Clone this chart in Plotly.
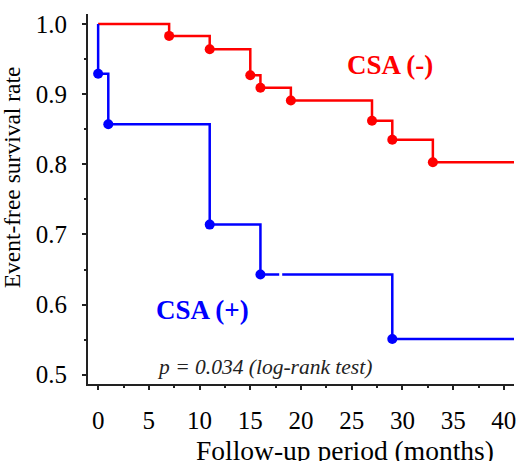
import plotly.graph_objects as go

# Kaplan-Meier step data (months, survival)
red_x = [0, 7, 11, 15, 16, 19, 27, 29, 33, 41]
red_y = [1.0, 0.983, 0.964, 0.927, 0.909, 0.891, 0.862, 0.835, 0.803, 0.803]
red_evt_x = [7, 11, 15, 16, 19, 27, 29, 33]
red_evt_y = [0.983, 0.964, 0.927, 0.909, 0.891, 0.862, 0.835, 0.803]

blue_x = [0, 0, 1, 11, 16, 29, 41]
blue_y = [1.0, 0.929, 0.857, 0.714, 0.643, 0.551, 0.551]
blue_evt_x = [0, 1, 11, 16, 29]
blue_evt_y = [0.929, 0.857, 0.714, 0.643, 0.551]
blue_cens_x = [18]
blue_cens_y = [0.643]

x_ticks = [0, 5, 10, 15, 20, 25, 30, 35, 40]
y_ticks = [0.5, 0.6, 0.7, 0.8, 0.9, 1.0]
y_tick_text = ["0.5", "0.6", "0.7", "0.8", "0.9", "1.0"]

FONT = "Liberation Serif"
RED = "#ff0000"
BLUE = "#0000ff"

W, H = 521, 461
L, R, T, B = 88, 514, 14, 384.3  # plot area in page pixels

fig = go.Figure()
fig.add_trace(go.Scatter(x=red_x, y=red_y, mode="lines", line=dict(color=RED, width=2.5, shape="hv"),
                         showlegend=False, hoverinfo="skip"))
fig.add_trace(go.Scatter(x=red_evt_x, y=red_evt_y, mode="markers", marker=dict(color=RED, size=10),
                         showlegend=False))
fig.add_trace(go.Scatter(x=blue_x, y=blue_y, mode="lines", line=dict(color=BLUE, width=2.5, shape="hv"),
                         showlegend=False, hoverinfo="skip"))
fig.add_trace(go.Scatter(x=blue_cens_x, y=blue_cens_y, mode="markers",
                         marker=dict(symbol="line-ns", size=8, line=dict(color="white", width=3)),
                         showlegend=False))
fig.add_trace(go.Scatter(x=blue_evt_x, y=blue_evt_y, mode="markers", marker=dict(color=BLUE, size=10),
                         showlegend=False))

axis_common = dict(showline=True, linecolor="#222222", linewidth=2, showgrid=False, zeroline=False,
                   ticks="outside", ticklen=4, tickwidth=1.5, tickcolor="#222222", automargin=False,
                   tickfont=dict(family=FONT, size=25, color="black"))

fig.update_xaxes(range=[-1, 41], tickvals=x_ticks, ticklabelstandoff=9,
                 minor=dict(dtick=2.5, tick0=0, ticks="outside", ticklen=2, tickwidth=1.5, tickcolor="#222222"),
                 **axis_common)
fig.update_yaxes(range=[0.4868, 1.0142], tickvals=y_ticks, ticktext=y_tick_text, ticklabelstandoff=10,
                 minor=dict(dtick=0.05, tick0=0.5, ticks="outside", ticklen=2, tickwidth=1.5, tickcolor="#222222"),
                 **axis_common)

def px(x):
    return (x - L) / (R - L)

def py(y):
    return 1 - (y - T) / (B - T)

def note(text, x, y, size, color, angle=0):
    fig.add_annotation(text=text, x=px(x), y=py(y), xref="paper", yref="paper", xanchor="center",
                       yanchor="middle", showarrow=False, textangle=angle,
                       font=dict(family=FONT, size=size, color=color))

note("<b>CSA (-)</b>", 390, 65.5, 27, RED)
note("<b>CSA (+)</b>", 202, 310, 27, BLUE)
note("<i>p = 0.034 (log-rank test)</i>", 264, 367.5, 21.5, "#222222")
note("Follow-up period (months)", 345, 451, 27.5, "black")
note("Event-free survival rate", 12, 177.5, 23.5, "black", -90)

fig.update_layout(width=W, height=H,
                  margin=dict(l=L, r=W - R, t=T, b=H - B, autoexpand=False),
                  plot_bgcolor="white", paper_bgcolor="white")

fig.write_html("out.html", config={"displayModeBar": False},
               post_script="document.body.style.margin='0';")
